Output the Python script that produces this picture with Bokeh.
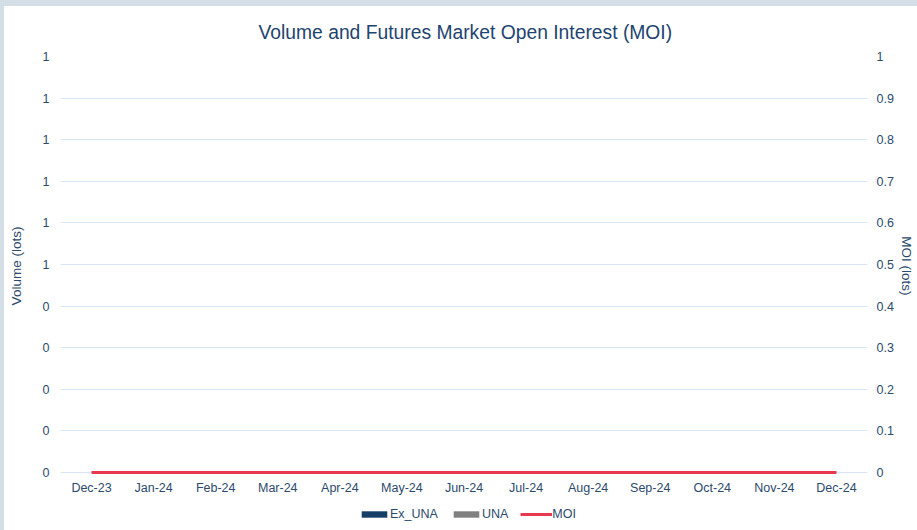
from bokeh.plotting import figure
from bokeh.layouts import column
from bokeh.models import (Range1d, LinearAxis, FixedTicker, NumeralTickFormatter,
                          Legend, LegendItem, FactorRange, ColumnDataSource,
                          GlobalInlineStyleSheet)
from bokeh.embed import file_html
from bokeh.resources import INLINE

months = ["Dec-23", "Jan-24", "Feb-24", "Mar-24", "Apr-24", "May-24", "Jun-24",
          "Jul-24", "Aug-24", "Sep-24", "Oct-24", "Nov-24", "Dec-24"]
ex_una = [0, 0, 0, 0, 0, 0, 0, 0, 0, 0, 0, 0, 0]
una = [0, 0, 0, 0, 0, 0, 0, 0, 0, 0, 0, 0, 0]
moi = [0, 0, 0, 0, 0, 0, 0, 0, 0, 0, 0, 0, 0]
vol_ticks = [0, 0.1, 0.2, 0.3, 0.4, 0.5, 0.6, 0.7, 0.8, 0.9, 1.0]
moi_ticks = [0, 0.1, 0.2, 0.3, 0.4, 0.5, 0.6, 0.7, 0.8, 0.9, 1.0]
series_names = ["Ex_UNA", "UNA", "MOI"]
series_colors = ["#163f66", "#808080", "#e8384f"]

TITLE_C = "#1e4470"
TXT = "#2c4a6b"
FONT = "Liberation Sans"

# small pad below zero so the zero line is not half-clipped by the frame
PAD = 3.0 / 416.0

src = ColumnDataSource(dict(month=months, Ex_UNA=ex_una, UNA=una, MOI=moi))

p = figure(x_range=FactorRange(*months, range_padding=0), y_range=Range1d(-PAD, 1),
           width=913, height=500, output_backend="svg", toolbar_location=None,
           min_border_left=56, min_border_right=50, min_border_top=50, min_border_bottom=31)
p.extra_y_ranges = {"moi": Range1d(-PAD, 1)}

bars = p.vbar_stack(["Ex_UNA", "UNA"], x="month", width=0.6, source=src,
                    color=series_colors[:2], line_width=0)
line = p.line(x="month", y="MOI", source=src, color=series_colors[2], line_width=3,
              y_range_name="moi")

p.title.text = "Volume and Futures Market Open Interest (MOI)"
p.title.align = "left"
p.title.offset = 198
p.title.text_font = FONT
p.title.text_font_size = "19.3px"
p.title.text_font_style = "normal"
p.title.text_color = TITLE_C
p.title.standoff = 27

p.outline_line_color = None
p.xgrid.grid_line_color = None
p.ygrid.grid_line_color = "#d9e7f4"
p.ygrid.ticker = FixedTicker(ticks=vol_ticks)

def style_axis(ax):
    ax.axis_line_color = None
    ax.major_tick_line_color = None
    ax.minor_tick_line_color = None
    ax.major_tick_out = 0
    ax.major_tick_in = 0
    ax.minor_tick_out = 0
    ax.minor_tick_in = 0
    ax.major_label_text_font = FONT
    ax.major_label_text_font_size = "12.5px"
    ax.major_label_text_color = TXT
    ax.axis_label_text_font = FONT
    ax.axis_label_text_font_size = "13.5px"
    ax.axis_label_text_font_style = "normal"
    ax.axis_label_text_color = TXT

ly = p.yaxis[0]
ly.ticker = FixedTicker(ticks=vol_ticks)
ly.formatter = NumeralTickFormatter(format="0")
ly.axis_label = "Volume (lots)"
ly.major_label_standoff = 11
ly.axis_label_standoff = 16
style_axis(ly)

ry = LinearAxis(y_range_name="moi", ticker=FixedTicker(ticks=moi_ticks),
                formatter=NumeralTickFormatter(format="0.[0]"), axis_label="MOI (lots)")
ry.major_label_standoff = 9
ry.axis_label_standoff = 2
style_axis(ry)
p.add_layout(ry, "right")

xa = p.xaxis[0]
xa.major_label_standoff = 5
style_axis(xa)

# legend strip below the chart (its glyphs sit outside its own y range, so only the legend shows)
lg = figure(width=913, height=24, output_backend="svg", toolbar_location=None,
            min_border=0, x_range=FactorRange(*months, range_padding=0),
            y_range=Range1d(1, 2), x_axis_location=None, y_axis_location=None)
lg.grid.visible = False
lg.outline_line_color = None
lbars = lg.vbar_stack(["Ex_UNA", "UNA"], x="month", width=0.6, source=src,
                      color=series_colors[:2], line_width=0)
lline = lg.line(x="month", y="MOI", source=src, color=series_colors[2], line_width=3)
legend = Legend(items=[LegendItem(label=series_names[0], renderers=[lbars[0]]),
                       LegendItem(label=series_names[1], renderers=[lbars[1]]),
                       LegendItem(label=series_names[2], renderers=[lline])],
                orientation="horizontal", location=(298, 9),
                glyph_width=32, glyph_height=8, label_height=8, label_standoff=0, spacing=12,
                padding=0, margin=0,
                label_text_font=FONT, label_text_font_size="12.5px", label_text_color=TXT,
                border_line_color=None, background_fill_alpha=0)
lg.add_layout(legend, "center")

layout = column(p, lg, spacing=0)
layout.styles = {"margin-top": "6px", "margin-left": "4px", "background-color": "white"}
layout.stylesheets = [GlobalInlineStyleSheet(css="body { margin: 0; background: #d3dee7; }")]

open("out.html", "w").write(file_html(layout, INLINE))
